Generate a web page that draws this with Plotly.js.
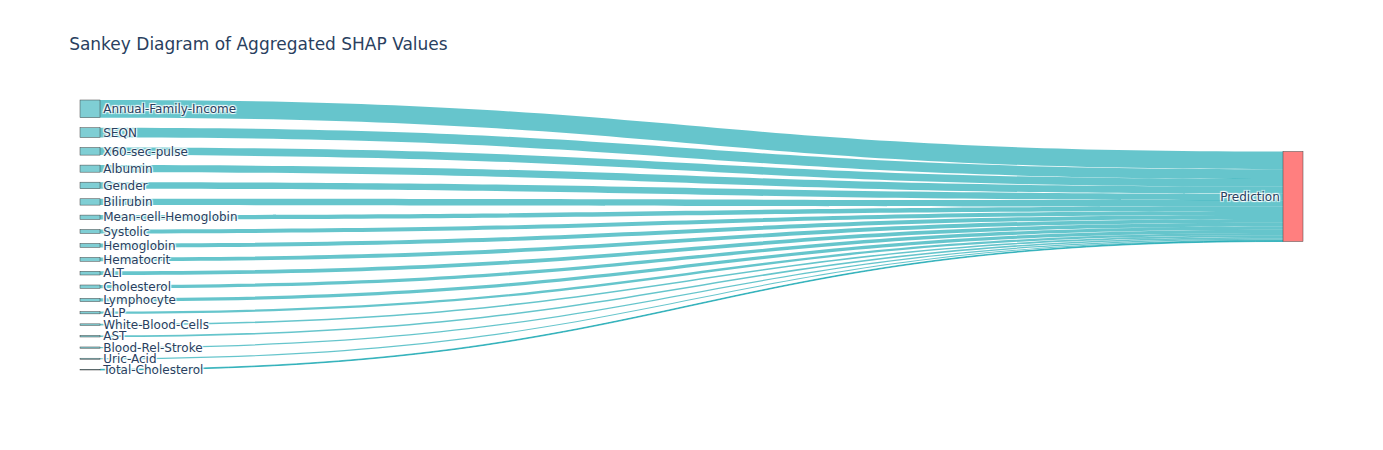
<!DOCTYPE html>
<html>
<head>
<meta charset="utf-8">
<script src="https://cdn.plot.ly/plotly-3.0.1.min.js"></script>
<style>html,body{margin:0;padding:0;}#chart{width:1383px;height:450px;}</style>
</head>
<body>
<div id="chart"></div>
<script>
var features = ["Annual-Family-Income","SEQN","X60-sec-pulse","Albumin","Gender","Bilirubin","Mean-cell-Hemoglobin","Systolic","Hemoglobin","Hematocrit","ALT","Cholesterol","Lymphocyte","ALP","White-Blood-Cells","AST","Blood-Rel-Stroke","Uric-Acid","Total-Cholesterol"];
var shapValues = [0.170,0.094,0.073,0.068,0.063,0.061,0.042,0.038,0.038,0.037,0.036,0.032,0.031,0.022,0.015,0.015,0.012,0.010,0.007];
var targetLabel = "Prediction";

var labels = features.concat([targetLabel]);
var targetIndex = features.length;
var sources = features.map(function(_, i){ return i; });
var targets = features.map(function(){ return targetIndex; });
var nodeColors = features.map(function(){ return 'rgba(0,158,170,0.5)'; }).concat(['rgba(255,0,0,0.5)']);

var data = [{
  type: 'sankey',
  orientation: 'h',
  node: {
    pad: 10,
    thickness: 20,
    line: {color: '#444', width: 0.5},
    label: labels,
    color: nodeColors
  },
  link: {
    source: sources,
    target: targets,
    value: shapValues,
    color: 'rgba(0,158,170,0.6)'
  }
}];

var layout = {
  width: 1383,
  height: 450,
  font: {family: '"DejaVu Sans", Verdana, sans-serif', size: 12, color: '#2a3f5f'},
  title: {text: 'Sankey Diagram of Aggregated SHAP Values', x: 0.05, xanchor: 'left', font: {size: 17, color: '#2a3f5f'}}
};

Plotly.newPlot('chart', data, layout, {displayModeBar: false});
</script>
</body>
</html>
